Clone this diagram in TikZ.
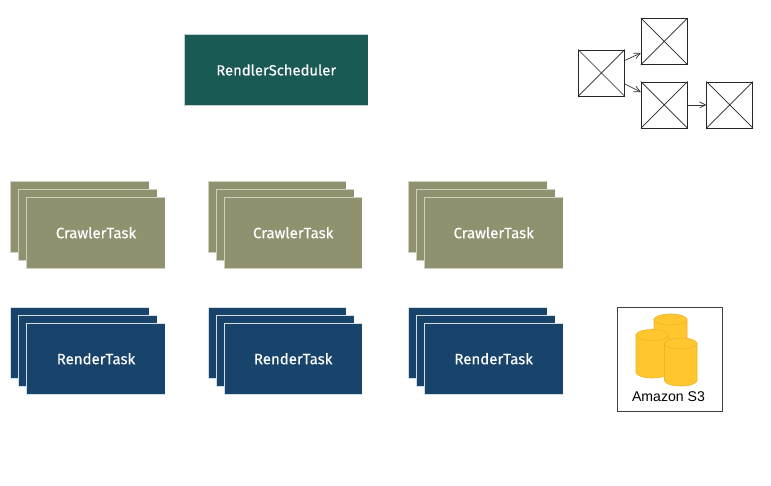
\documentclass[tikz,border=0pt]{standalone}
\usepackage{fontspec}
\setmainfont[FakeBold=0.25]{Fira Sans}
\newfontfamily\labelfont{Liberation Sans}
\usetikzlibrary{arrows.meta}
\definecolor{crawlerc}{HTML}{8F916F}
\definecolor{crawlere}{HTML}{CFD0C0}
\definecolor{renderc}{HTML}{18446B}
\definecolor{rendere}{HTML}{D5DDE5}
\definecolor{schedc}{HTML}{1B5955}
\definecolor{schede}{HTML}{C4CFCD}
\definecolor{cany}{HTML}{FFC62D}
\definecolor{cane}{HTML}{EDB42A}
\tikzset{
  x=1pt,y=-1pt,
  task/.style={rectangle,minimum width=138pt,minimum height=71pt,inner sep=0pt,anchor=north west,text=white,font=\fontsize{15}{16}\selectfont},
  crawler/.style={task,fill=crawlerc},
  render/.style={task,fill=renderc},
  scheduler/.style={task,minimum width=184pt,fill=schedc,font=\fontsize{14.8}{16}\selectfont},
  rim/.style={line width=0.9pt},
  xbox/.style={rectangle,draw=black!85,line width=0.8pt,fill=white,minimum width=46pt,minimum height=46pt,inner sep=0pt,anchor=north west},
  flow/.style={draw=black!80,line width=0.7pt,-{Straight Barb[length=6pt,width=6pt]}},
  cross/.style={draw=black!85,line width=0.7pt},
  can/.style={fill=cany,draw=cane,line width=0.6pt},
  store/.style={rectangle,draw=black!75,line width=0.8pt,fill=white,minimum width=105pt,minimum height=104pt,inner sep=0pt,anchor=north west},
  storelabel/.style={inner sep=0pt,font=\labelfont\fontsize{14.1}{15}\selectfont,text=black}
}
\newcommand{\rimof}[2]{\draw[rim,draw=#2] (#1.north east) -- (#1.north west) -- (#1.south west) -- (#1.south east);}
\newcommand{\canat}[4]{% left, right, top, bottom
  \path[can] (#1,#3+5.5) -- (#1,#4-5.5) arc[x radius=(#2-#1)/2,y radius=5.5,start angle=180,end angle=0] -- (#2,#3+5.5) -- cycle;
  \path[can] (#1,#3+5.5) arc[x radius=(#2-#1)/2,y radius=5.5,start angle=180,end angle=540] -- cycle;
}
\newcommand{\stackof}[6]{% style, prefix, x, y, text, rim colour
  \node[#1] (#2a) at (#3,#4) {};\rimof{#2a}{#6}
  \node[#1] (#2b) at (#3+8,#4+8) {};\rimof{#2b}{#6}
  \node[#1] (#2c) at (#3+16,#4+16) {#5};\rimof{#2c}{#6}
}
\begin{document}
\begin{tikzpicture}
\useasboundingbox (0,0) rectangle (771,485);
\node[scheduler] (sched) at (184,34.3) {RendlerScheduler};
\rimof{sched}{schede}
\stackof{crawler}{cra}{10.8}{181}{CrawlerTask}{crawlere}
\stackof{crawler}{crb}{208}{181}{CrawlerTask}{crawlere}
\stackof{crawler}{crc}{408.5}{181}{CrawlerTask}{crawlere}
\stackof{render}{rea}{10.8}{307}{RenderTask}{rendere}
\stackof{render}{reb}{208}{307}{RenderTask}{rendere}
\stackof{render}{rec}{408.5}{307}{RenderTask}{rendere}
% workflow glyph
\node[xbox] (wa) at (578,49.5) {};
\node[xbox] (wb) at (640.8,18) {};
\node[xbox] (wc) at (640.8,81.5) {};
\node[xbox] (wd) at (706.3,81.5) {};
\foreach \n in {wa,wb,wc,wd}{
  \draw[cross] (\n.north west) -- (\n.south east);
  \draw[cross] (\n.south west) -- (\n.north east);
}
\draw[flow] (wa.east |- 0,60.5) -- (wb.west |- 0,53);
\draw[flow] (wa.east |- 0,84) -- (wc.west |- 0,92);
\draw[flow] (wc.east) -- (wd.west);
% storage
\node[store] (s3) at (617,307) {};
\canat{654}{687}{314}{364}
\canat{636}{668.5}{329.5}{378}
\canat{664.5}{697}{338}{386}
\node[storelabel] (s3l) at (668.5,397) {Amazon S3};
\end{tikzpicture}
\end{document}
